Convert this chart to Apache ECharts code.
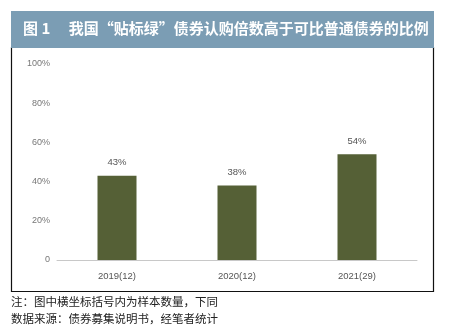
<!DOCTYPE html>
<html>
<head>
<meta charset="utf-8">
<script src="https://cdn.jsdelivr.net/npm/echarts@6/dist/echarts.min.js"></script>
<style>
  html, body { margin: 0; padding: 0; background: #fff; }
  #chart { width: 457px; height: 331px; }
</style>
</head>
<body>
<div id="chart"></div>
<script>
// Categories (sample size in brackets) and share of green-labelled bonds
const categories = ['2019(12)', '2020(12)', '2021(29)'];
const ratioValues = [43, 38, 54];
const yTicks = [0, 20, 40, 60, 80, 100];

const titleText = '图 1\u3000 我国“贴标绿”债券认购倍数高于可比普通债券的比例';
const noteLines = ['注：图中横坐标括号内为样本数量，下同', '数据来源：债券募集说明书，经笔者统计'];

const cjk = '"Noto Sans CJK SC", "Noto Sans", sans-serif';
const latin = '"Liberation Sans", Arial, sans-serif';

const chart = echarts.init(document.getElementById('chart'), null, { renderer: 'canvas' });

chart.setOption({
  backgroundColor: '#ffffff',
  animation: false,
  grid: { left: 57, right: 40, top: 64, bottom: 71 },
  xAxis: {
    type: 'category',
    data: categories,
    axisLine: { show: true, lineStyle: { color: '#c8c8c8', width: 1 } },
    axisTick: { show: false },
    axisLabel: { color: '#555', fontFamily: latin, fontSize: 9.5, margin: 11 }
  },
  yAxis: {
    type: 'value',
    min: yTicks[0],
    max: yTicks[yTicks.length - 1],
    interval: 20,
    splitLine: { show: false },
    axisLine: { show: false },
    axisTick: { show: false },
    axisLabel: {
      color: '#777',
      fontFamily: latin,
      fontSize: 9,
      margin: 7,
      formatter: v => (v === 0 ? '0' : v + '%')
    }
  },
  series: [{
    type: 'bar',
    data: ratioValues,
    barWidth: 39,
    itemStyle: { color: '#556036' },
    label: {
      show: true,
      position: 'top',
      distance: 8,
      color: '#555',
      fontFamily: latin,
      fontSize: 9.5,
      formatter: p => p.value + '%'
    }
  }],
  graphic: [
    // frame around the plot
    {
      type: 'rect',
      shape: { x: 11.5, y: 47.5, width: 422, height: 244 },
      style: { fill: 'none', stroke: '#111', lineWidth: 1.2 },
      z: 1
    },
    // title banner
    {
      type: 'rect',
      shape: { x: 11, y: 11, width: 423, height: 37 },
      style: { fill: '#7b9db4' },
      z: 2
    },
    {
      type: 'text',
      left: 23,
      top: 21,
      style: {
        text: titleText,
        fill: '#ffffff',
        font: 'bold 15px ' + cjk
      },
      z: 3
    },
    {
      type: 'text',
      left: 11,
      top: 296,
      style: { text: noteLines[0], fill: '#222', font: '11.5px ' + cjk },
      z: 3
    },
    {
      type: 'text',
      left: 11,
      top: 313,
      style: { text: noteLines[1], fill: '#222', font: '11.5px ' + cjk },
      z: 3
    }
  ]
});
</script>
</body>
</html>
